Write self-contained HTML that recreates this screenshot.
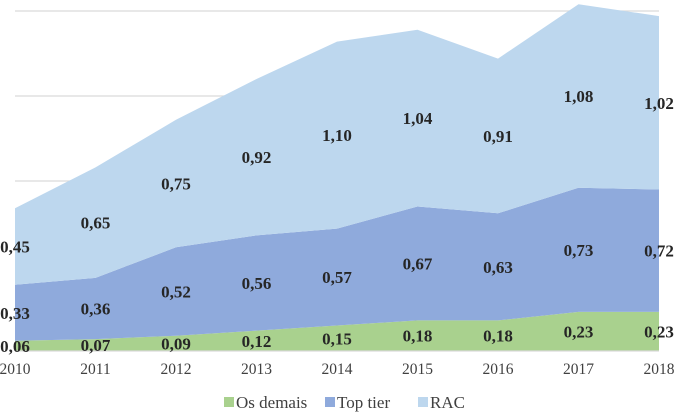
<!DOCTYPE html>
<html><head><meta charset="utf-8"><style>
body{margin:0;background:#fff;}
svg{display:block;font-family:"Liberation Serif",serif;}
</style></head><body>
<svg id="c" width="675" height="412"></svg>
<script>
const years=["2010","2011","2012","2013","2014","2015","2016","2017","2018"];
const demais=[0.06,0.07,0.09,0.12,0.15,0.18,0.18,0.23,0.23];
const topTier=[0.33,0.36,0.52,0.56,0.57,0.67,0.63,0.73,0.72];
const rac=[0.45,0.65,0.75,0.92,1.10,1.04,0.91,1.08,1.02];
const gridVals=[0.5,1,1.5,2];
const NS="http://www.w3.org/2000/svg";
const svg=document.getElementById('c');
const x0=15,x1=659,yb=351,k=170;
const X=i=>x0+i*(x1-x0)/(years.length-1);
const Y=v=>yb-v*k;
function el(t,a){const e=document.createElementNS(NS,t);for(const q in a)e.setAttribute(q,a[q]);svg.appendChild(e);return e;}
gridVals.forEach(v=>{const g=el('line',{x1:x0,x2:x1,y1:Y(v),y2:Y(v),stroke:'#d9d9d9','stroke-width':1.3});

});
const series=[{d:demais,c:'#a9d18e',n:'os-demais-area'},{d:topTier,c:'#8faadc',n:'top-tier-area'},{d:rac,c:'#bdd7ee',n:'rac-area'}];
let base=years.map(()=>0);
const layers=[];
series.forEach(s=>{
 const top=base.map((b,i)=>b+s.d[i]);
 let p=top.map((v,i)=>(i?'L':'M')+X(i)+','+Y(v)).join('');
 for(let i=years.length-1;i>=0;i--)p+='L'+X(i)+','+Y(base[i]);
 const a=el('path',{d:p+'Z',fill:s.c});
 
 
 layers.push({b:base.slice(),t:top,d:s.d});
 base=top;
});
const ax=el('line',{x1:x0,x2:x1,y1:yb,y2:yb,stroke:'#d9d9d9','stroke-width':1.3});


layers.forEach(L=>{L.d.forEach((v,i)=>{
 const t=el('text',{x:X(i),y:Y((L.b[i]+L.t[i])/2)+6,'text-anchor':'middle','font-size':17,'font-weight':'bold',fill:'#262626'});
 t.textContent=v.toFixed(2).replace('.',',');
 
 
});});
years.forEach((y,i)=>{const t=el('text',{x:X(i),y:374,'text-anchor':'middle','font-size':15.5,fill:'#404040'});
t.textContent=y;

});
const leg=[['Os demais','#a9d18e',224],['Top tier','#8faadc',325],['RAC','#bdd7ee',418]];
leg.forEach(l=>{const r=el('rect',{x:l[2],y:397,width:10,height:10,fill:l[1]});


const t=el('text',{x:l[2]+12,y:408,'font-size':17,fill:'#404040'});t.textContent=l[0];

});
</script>
</body></html>
